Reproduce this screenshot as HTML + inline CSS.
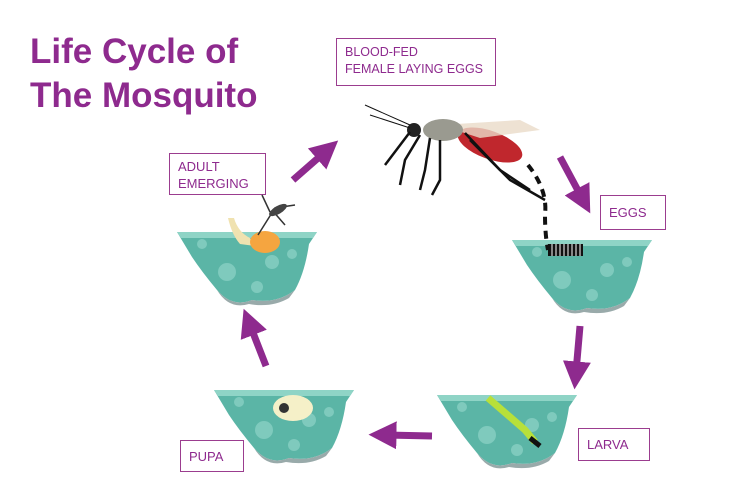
<!DOCTYPE html>
<html><head><style>
body{margin:0;width:750px;height:500px;background:#fff;position:relative;overflow:hidden;font-family:"Liberation Sans",sans-serif}
.t{position:absolute;left:30px;color:#8e2a8e;font-weight:bold;font-size:35px;line-height:44px}
.b{position:absolute;border:1.5px solid #9b3d8f;color:#8e2a8e;font-size:13px;line-height:17px;padding:4px 8px;box-sizing:border-box;white-space:nowrap}
</style></head><body>
<div class="t" style="top:30px">Life Cycle of<br>The Mosquito</div>
<div class="b" style="left:336px;top:38px;width:160px;height:48px;padding-top:5px;font-size:12.5px">BLOOD-FED<br>FEMALE LAYING EGGS</div>
<div class="b" style="left:169px;top:153px;width:97px;height:42px">ADULT<br>EMERGING</div>
<div class="b" style="left:600px;top:195px;width:66px;height:35px;padding-top:8px">EGGS</div>
<div class="b" style="left:578px;top:428px;width:72px;height:33px;padding-top:7px">LARVA</div>
<div class="b" style="left:180px;top:440px;width:64px;height:32px;padding-top:7px">PUPA</div>
<svg width="750" height="500" style="position:absolute;left:0;top:0">
<defs>
<g id="w">
<path d="M0 0 H140 L132 12 Q128 40 118 58 Q100 72 75 68 Q55 76 40 58 Q25 40 15 25 Z" fill="#5bb5a6"/>
<path d="M0 0 H140 L136 6 H4 Z" fill="#8fd4c6"/>
<path d="M40 58 Q55 76 75 68 Q100 72 118 58 L112 66 Q95 76 72 72 Q52 78 40 58Z" fill="#9aa"/>
<circle cx="50" cy="40" r="9" fill="#7fcabd"/><circle cx="95" cy="30" r="7" fill="#7fcabd"/><circle cx="25" cy="12" r="5" fill="#7fcabd"/><circle cx="80" cy="55" r="6" fill="#7fcabd"/><circle cx="115" cy="22" r="5" fill="#7fcabd"/>
</g>
<marker id="a" markerWidth="4" markerHeight="4" refX="1.5" refY="2" orient="auto"><path d="M0 0L4 2L0 4Z" fill="#8e2a8e"/></marker>
</defs>
<use href="#w" x="177" y="232"/>
<use href="#w" x="512" y="240"/>
<use href="#w" x="437" y="395"/>
<use href="#w" x="214" y="390"/>
<g stroke="#8e2a8e" stroke-width="7" fill="none" marker-end="url(#a)">
<line x1="293" y1="180" x2="325" y2="152"/>
<line x1="560" y1="157" x2="582" y2="198"/>
<line x1="580" y1="326" x2="576" y2="372"/>
<line x1="432" y1="436" x2="386" y2="435"/>
<line x1="266" y1="366" x2="250" y2="325"/>
</g>
<path d="M228 218 Q232 235 240 244 L255 246 L250 238 Q238 232 234 218Z" fill="#f0e2b0"/>
<ellipse cx="265" cy="242" rx="15" ry="11" fill="#f5a540"/>
<g stroke="#333" stroke-width="1.5" fill="none"><path d="M258 235 L275 208 L295 205"/><path d="M270 212 L262 195"/><path d="M272 210 L285 225"/></g>
<ellipse cx="278" cy="210" rx="10" ry="4" fill="#444" transform="rotate(-30 278 210)"/>
<ellipse cx="490" cy="145" rx="34" ry="14" fill="#c0272d" transform="rotate(20 490 145)"/>
<path d="M440 125 L520 120 L540 130 L480 138Z" fill="#eadbc8" opacity=".8"/>
<ellipse cx="443" cy="130" rx="20" ry="11" fill="#9a9a90"/>
<circle cx="414" cy="130" r="7" fill="#222"/>
<g stroke="#111" stroke-width="2.5" fill="none">
<path d="M410 132 L385 165"/><path d="M420 135 L405 160 L400 185"/><path d="M430 138 L425 170 L420 190"/><path d="M440 140 L440 180 L432 195"/><path d="M465 133 L500 170 L530 190"/><path d="M470 140 L510 180 L545 200"/>
<path d="M410 125 L365 105" stroke-width="1"/><path d="M410 128 L370 115" stroke-width="1"/>
</g>
<g stroke="#111" stroke-width="4" stroke-dasharray="8 6" fill="none"><path d="M528 165 Q548 190 545 215 Q545 235 548 250"/></g>
<rect x="548" y="244" width="35" height="12" fill="#111"/>
<g stroke="#fff" stroke-width="1"><path d="M552 244v12M556 244v12M560 244v12M564 244v12M568 244v12M572 244v12M576 244v12M580 244v12"/></g>
<path d="M488 398 L525 430 L535 442" stroke="#b8e03a" stroke-width="7" fill="none"/>
<path d="M530 438 L540 446" stroke="#111" stroke-width="5"/>
<ellipse cx="293" cy="408" rx="20" ry="13" fill="#f5f0c8"/>
<circle cx="284" cy="408" r="5" fill="#333"/>
</svg>
</body></html>
